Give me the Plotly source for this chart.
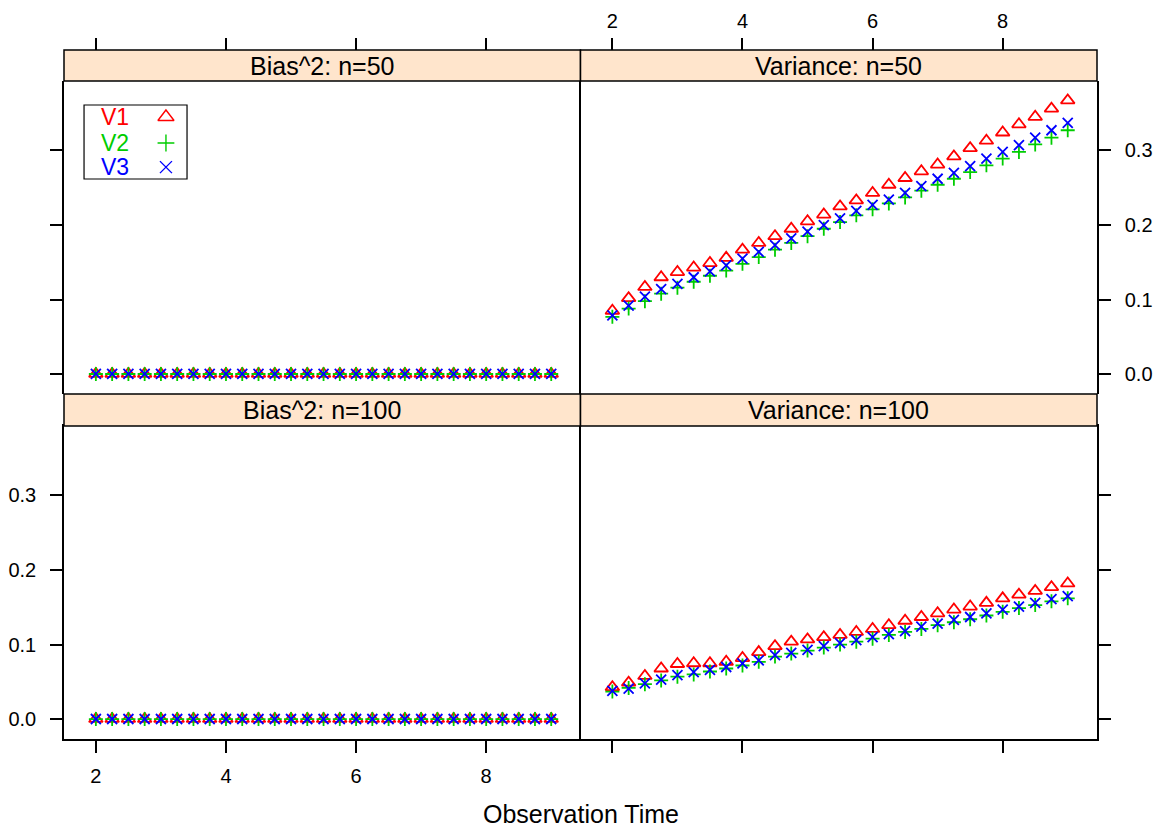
import plotly.graph_objects as go

obs_time = [2.0, 2.25, 2.5, 2.75, 3.0, 3.25, 3.5, 3.75, 4.0, 4.25, 4.5, 4.75, 5.0, 5.25, 5.5,
            5.75, 6.0, 6.25, 6.5, 6.75, 7.0, 7.25, 7.5, 7.75, 8.0, 8.25, 8.5, 8.75, 9.0]

series_names = ["V1", "V2", "V3"]
panel_titles = ["Bias^2: n=100", "Variance: n=100", "Bias^2: n=50", "Variance: n=50"]
x_ticks = [2, 4, 6, 8]
y_ticks = [0.0, 0.1, 0.2, 0.3]
y_tick_text = ["0.0", "0.1", "0.2", "0.3"]

# Bias^2, n=50
bias50_v1 = [0.0005, 0.0005, 0.0005, 0.0005, 0.0005, 0.0005, 0.0005, 0.0005, 0.0005, 0.0005,
             0.0005, 0.0005, 0.0005, 0.0005, 0.0005, 0.0005, 0.0005, 0.0005, 0.0005, 0.0005,
             0.0005, 0.0005, 0.0005, 0.0005, 0.0005, 0.0005, 0.0005, 0.0005, 0.0005]
bias50_v2 = [0.0003, 0.0003, 0.0003, 0.0003, 0.0003, 0.0003, 0.0003, 0.0003, 0.0003, 0.0003,
             0.0003, 0.0003, 0.0003, 0.0003, 0.0003, 0.0003, 0.0003, 0.0003, 0.0003, 0.0003,
             0.0003, 0.0003, 0.0003, 0.0003, 0.0003, 0.0003, 0.0003, 0.0003, 0.0003]
bias50_v3 = [0.0004, 0.0004, 0.0004, 0.0004, 0.0004, 0.0004, 0.0004, 0.0004, 0.0004, 0.0004,
             0.0004, 0.0004, 0.0004, 0.0004, 0.0004, 0.0004, 0.0004, 0.0004, 0.0004, 0.0004,
             0.0004, 0.0004, 0.0004, 0.0004, 0.0004, 0.0004, 0.0004, 0.0004, 0.0004]

# Variance, n=50
var50_v1 = [0.085, 0.102, 0.117, 0.130, 0.137, 0.143, 0.149, 0.156, 0.167, 0.176,
            0.185, 0.195, 0.205, 0.214, 0.225, 0.233, 0.243, 0.254, 0.263, 0.272,
            0.281, 0.292, 0.303, 0.313, 0.324, 0.335, 0.345, 0.356, 0.367]
var50_v2 = [0.077, 0.088, 0.098, 0.108, 0.116, 0.124, 0.132, 0.139, 0.148, 0.157,
            0.167, 0.176, 0.185, 0.195, 0.204, 0.213, 0.221, 0.229, 0.237, 0.246,
            0.254, 0.262, 0.271, 0.280, 0.289, 0.298, 0.308, 0.317, 0.327]
var50_v3 = [0.079, 0.092, 0.104, 0.114, 0.121, 0.130, 0.138, 0.146, 0.155, 0.164,
            0.173, 0.182, 0.191, 0.200, 0.209, 0.219, 0.227, 0.234, 0.243, 0.252,
            0.262, 0.270, 0.279, 0.289, 0.298, 0.307, 0.317, 0.327, 0.337]

# Bias^2, n=100
bias100_v1 = [0.0004, 0.0004, 0.0004, 0.0004, 0.0004, 0.0004, 0.0004, 0.0004, 0.0004, 0.0004,
              0.0004, 0.0004, 0.0004, 0.0004, 0.0004, 0.0004, 0.0004, 0.0004, 0.0004, 0.0004,
              0.0004, 0.0004, 0.0004, 0.0004, 0.0004, 0.0004, 0.0004, 0.0004, 0.0004]
bias100_v2 = [0.0002, 0.0002, 0.0002, 0.0002, 0.0002, 0.0002, 0.0002, 0.0002, 0.0002, 0.0002,
              0.0002, 0.0002, 0.0002, 0.0002, 0.0002, 0.0002, 0.0002, 0.0002, 0.0002, 0.0002,
              0.0002, 0.0002, 0.0002, 0.0002, 0.0002, 0.0002, 0.0002, 0.0002, 0.0002]
bias100_v3 = [0.0003, 0.0003, 0.0003, 0.0003, 0.0003, 0.0003, 0.0003, 0.0003, 0.0003, 0.0003,
              0.0003, 0.0003, 0.0003, 0.0003, 0.0003, 0.0003, 0.0003, 0.0003, 0.0003, 0.0003,
              0.0003, 0.0003, 0.0003, 0.0003, 0.0003, 0.0003, 0.0003, 0.0003, 0.0003]

# Variance, n=100
var100_v1 = [0.043, 0.049, 0.058, 0.068, 0.074, 0.075, 0.075, 0.077, 0.082, 0.090,
             0.098, 0.104, 0.107, 0.110, 0.113, 0.117, 0.121, 0.126, 0.132, 0.137,
             0.142, 0.147, 0.151, 0.156, 0.162, 0.167, 0.172, 0.177, 0.182]
var100_v2 = [0.037, 0.042, 0.047, 0.052, 0.057, 0.060, 0.064, 0.068, 0.072, 0.077,
             0.084, 0.088, 0.092, 0.096, 0.100, 0.104, 0.108, 0.113, 0.117, 0.121,
             0.126, 0.130, 0.134, 0.139, 0.144, 0.149, 0.153, 0.158, 0.162]
var100_v3 = [0.038, 0.041, 0.048, 0.053, 0.059, 0.063, 0.066, 0.070, 0.075, 0.079,
             0.086, 0.089, 0.093, 0.098, 0.102, 0.106, 0.110, 0.114, 0.118, 0.124,
             0.128, 0.133, 0.137, 0.142, 0.147, 0.151, 0.156, 0.161, 0.165]

FONT = "Liberation Sans, Arial, Helvetica, sans-serif"
COLORS = ["#FF0000", "#00CD00", "#0000FF"]
SYMBOLS = ["triangle-up-open", "cross-thin-open", "x-thin-open"]
SIZES = [12, 10, 10]
STRIP_FILL = "#FFE5CC"
LW = 1.5

X_RANGE = [1.51, 9.45]
Y_RANGE = [-0.0265, 0.393]

# layout fractions (paper) for the 2x2 lattice incl. strips
bot_data = [0.0, 0.4543]
bot_strip = [0.4543, 0.5007]
top_data = [0.5007, 0.955]
top_strip = [0.955, 1.0]
left_dom = [0.0, 0.5]
right_dom = [0.5, 1.0]

panels = [
    ("x", "y", [bias100_v1, bias100_v2, bias100_v3]),
    ("x2", "y2", [var100_v1, var100_v2, var100_v3]),
    ("x3", "y3", [bias50_v1, bias50_v2, bias50_v3]),
    ("x4", "y4", [var50_v1, var50_v2, var50_v3]),
]

fig = go.Figure()
for xa, ya, values in panels:
    for i, vals in enumerate(values):
        fig.add_trace(go.Scatter(
            x=obs_time, y=vals, xaxis=xa, yaxis=ya, mode="markers",
            name=series_names[i], showlegend=False,
            marker=dict(symbol=SYMBOLS[i], size=SIZES[i], color=COLORS[i],
                        line=dict(color=COLORS[i], width=1.8))))

# legend key (text left, symbol right, as in lattice)
leg_x = 0.0987
leg_y = [0.9028, 0.865, 0.830]
for i in range(3):
    fig.add_trace(go.Scatter(
        x=[leg_x], y=[leg_y[i]], xaxis="x7", yaxis="y7", mode="markers",
        showlegend=False, hoverinfo="skip",
        marker=dict(symbol=SYMBOLS[i], size=SIZES[i] + 2, color=COLORS[i],
                    line=dict(color=COLORS[i], width=1.4))))

tick_font = dict(family=FONT, size=20, color="black")
base_x = dict(range=X_RANGE, tickvals=x_ticks, ticks="outside", ticklen=12,
              tickwidth=LW, tickcolor="black", tickfont=tick_font, automargin=False,
              showgrid=False, zeroline=False, ticklabelstandoff=6, fixedrange=True)
base_y = dict(range=Y_RANGE, tickvals=y_ticks, ticktext=y_tick_text, ticks="outside",
              ticklen=12, tickwidth=LW, tickcolor="black", tickfont=tick_font,
              showgrid=False, zeroline=False, showline=True, linecolor="black",
              linewidth=LW, ticklabelstandoff=10, fixedrange=True,
              automargin=False)

# page body adds an 8px offset, so the figure is laid out 8px up/left
fig.update_layout(
    template="none",
    width=1161, height=829,
    margin=dict(l=56, r=72, t=42, b=98, autoexpand=False),
    paper_bgcolor="white", plot_bgcolor="rgba(0,0,0,0)",
    font=dict(family=FONT, color="black"),
    showlegend=False,
    xaxis=dict(base_x, domain=left_dom, anchor="y", showline=True, linecolor="black",
               linewidth=LW, mirror=True, showticklabels=True),
    yaxis=dict(base_y, domain=bot_data, anchor="x", side="left", mirror=False,
               showticklabels=True),
    xaxis2=dict(base_x, domain=right_dom, anchor="y2", showline=True, linecolor="black",
                linewidth=LW, mirror=True, showticklabels=False),
    yaxis2=dict(base_y, domain=bot_data, anchor="x2", side="right", mirror=True,
                showticklabels=False),
    xaxis3=dict(base_x, domain=left_dom, anchor="free", position=1.0, side="top",
                showline=False, showticklabels=False),
    yaxis3=dict(base_y, domain=top_data, anchor="x3", side="left", mirror=False,
                showticklabels=False),
    xaxis4=dict(base_x, domain=right_dom, anchor="free", position=1.0, side="top",
                showline=False, showticklabels=True, ticklabelstandoff=2),
    yaxis4=dict(base_y, domain=top_data, anchor="x4", side="right", mirror=True,
                showticklabels=True),
    xaxis7=dict(domain=[0, 1], range=[0, 1], visible=False, anchor="y7", fixedrange=True),
    yaxis7=dict(domain=[0, 1], range=[0, 1], visible=False, anchor="x7", fixedrange=True),
)

# strips
strips = [
    (left_dom, bot_strip, panel_titles[0]),
    (right_dom, bot_strip, panel_titles[1]),
    (left_dom, top_strip, panel_titles[2]),
    (right_dom, top_strip, panel_titles[3]),
]
for xd, yd, title in strips:
    fig.add_shape(type="rect", xref="paper", yref="paper",
                  x0=xd[0], x1=xd[1], y0=yd[0], y1=yd[1],
                  fillcolor=STRIP_FILL, line=dict(color="black", width=LW))
    fig.add_annotation(x=(xd[0] + xd[1]) / 2, y=(yd[0] + yd[1]) / 2,
                       xref="paper", yref="paper", text=title, showarrow=False,
                       xanchor="center", yanchor="middle",
                       font=dict(family=FONT, size=25, color="black"))

# legend box and labels
fig.add_shape(type="rect", xref="paper", yref="paper",
              x0=0.0194, x1=0.1191, y0=0.8128, y1=0.9202,
              fillcolor="rgba(0,0,0,0)", line=dict(color="black", width=1.2))
for i, name in enumerate(series_names):
    fig.add_annotation(x=0.034, y=leg_y[i], xref="paper", yref="paper", text=name,
                       showarrow=False, xanchor="left", yanchor="middle",
                       font=dict(family=FONT, size=23, color=COLORS[i]))

fig.add_annotation(x=0.5, y=-0.109, xref="paper", yref="paper", text="Observation Time",
                   showarrow=False, xanchor="center", yanchor="middle",
                   font=dict(family=FONT, size=25, color="black"))

fig.write_html("out.html")
